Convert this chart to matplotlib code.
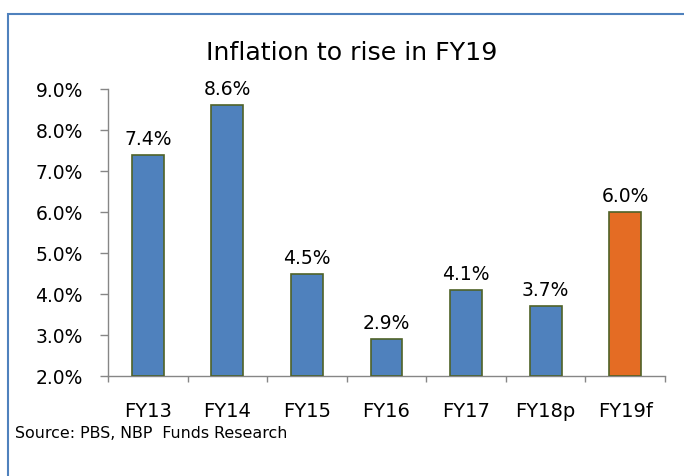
import matplotlib
matplotlib.use("Agg")
import matplotlib.pyplot as plt
from matplotlib.patches import Rectangle
from matplotlib.ticker import FuncFormatter, FixedLocator

categories = ["FY13", "FY14", "FY15", "FY16", "FY17", "FY18p", "FY19f"]
values = [7.4, 8.6, 4.5, 2.9, 4.1, 3.7, 6.0]
bar_colors = ["#4F81BD"] * 6 + ["#E46C24"]

plt.rcParams["font.family"] = ["DejaVu Sans"]

fig = plt.figure(figsize=(6.84, 4.77), dpi=100)
W, H = 684, 477

# outer frame (blue, runs off right/bottom edges)
fig.patches.append(Rectangle((8 / W, -0.1), 1.2, 1 - 15 / H + 0.1,
                             transform=fig.transFigure, fill=False,
                             edgecolor="#4F81BD", linewidth=1.5))

ax = fig.add_axes([108 / W, 1 - 377 / H, (665 - 108) / W, (377 - 90) / H])
x = range(len(categories))
ax.bar(x, [v - 2.0 for v in values], bottom=2.0, width=0.4,
       color=bar_colors, edgecolor="#4F6228", linewidth=1.2, zorder=3)

for xi, v in zip(x, values):
    ax.annotate(f"{v:.1f}%", (xi, v), xytext=(0, 5), textcoords="offset points",
                ha="center", va="bottom", fontsize=13.5)

ax.set_xlim(-0.5, len(categories) - 0.5)
ax.set_ylim(2.0, 9.0)
ax.set_yticks([2, 3, 4, 5, 6, 7, 8, 9])
ax.yaxis.set_major_formatter(FuncFormatter(lambda v, p: f"{v:.1f}%"))
ax.set_xticks(list(x))
ax.set_xticklabels(categories)
ax.xaxis.set_minor_locator(FixedLocator([i - 0.5 for i in range(len(categories) + 1)]))
ax.tick_params(axis="x", which="major", length=0, pad=18, labelsize=14)
ax.tick_params(axis="x", which="minor", length=4.5, color="#868686", width=1)
ax.tick_params(axis="y", length=6, color="#868686", width=1, labelsize=13.5, pad=12)

for side in ["top", "right"]:
    ax.spines[side].set_visible(False)
for side in ["left", "bottom"]:
    ax.spines[side].set_color("#868686")
    ax.spines[side].set_linewidth(1)

fig.text(352 / W, 1 - 53 / H, "Inflation to rise in FY19", ha="center", va="center",
         fontsize=18.2)
fig.text(15 / W, 1 - 434 / H, "Source: PBS, NBP  Funds Research", ha="left",
         va="center", fontsize=11.4)

fig.savefig("out.png", dpi=100)
